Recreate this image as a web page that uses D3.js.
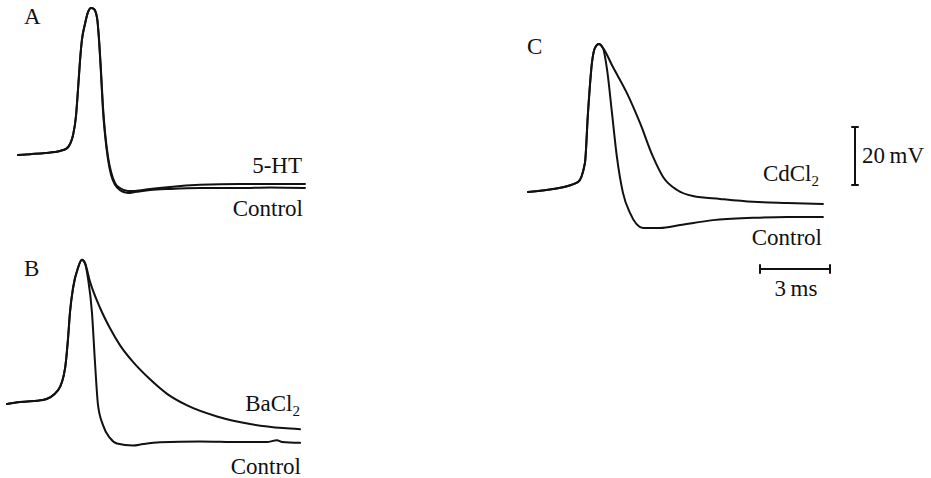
<!DOCTYPE html>
<html lang="en">
    <head>
	<title>Action potentials</title>
	<meta charset="utf-8">
	<style>
	 body {
	     margin: 0;
	     background: #fff;
	 }
	 text {
	     font-family: "Liberation Serif", "DejaVu Serif", serif;
	     font-size: 23px;
	     fill: #111;
	 }
	 .trace {
	     fill: none;
	     stroke: #111;
	     stroke-width: 2;
	     stroke-linejoin: round;
	     stroke-linecap: round;
	 }
	</style>
	<script src="https://d3js.org/d3.v7.min.js"></script>
    </head>
    <body>
	<div id="chart"></div>
	<script>

	 //Data: time (ms) and membrane potential (mV)

	 //A: control vs 5-HT
	 const tA_ctrl = [0, 0.51, 1.16, 1.80, 2.06, 2.23, 2.36, 2.49, 2.57, 2.66, 2.74, 2.87, 3.00, 3.13, 3.26, 3.39, 3.47, 3.56, 3.64, 3.73, 3.86, 3.99, 4.16, 4.37, 4.71, 5.01, 5.66, 6.52, 7.80, 9.52, 10.80, 12.30];
	 const vA_ctrl = [-50, -49.7, -49.3, -48.6, -47.9, -46.2, -43.1, -36.2, -27.6, -17.2, -10.3, -4.8, -0.7, 0.7, 0.3, -2.8, -10.3, -22.4, -34.5, -43.1, -51.7, -56.9, -60.3, -62.1, -63.1, -62.8, -62.1, -61.7, -61.4, -61.4, -61.2, -61.4];
	 const tA_5ht = [0, 0.51, 1.16, 1.80, 2.06, 2.23, 2.36, 2.49, 2.57, 2.66, 2.74, 2.87, 3.00, 3.13, 3.26, 3.39, 3.47, 3.56, 3.64, 3.73, 3.86, 3.99, 4.16, 4.37, 4.71, 5.01, 5.66, 6.52, 7.80, 9.52, 10.80, 12.30];
	 const vA_5ht = [-50, -49.7, -49.3, -48.6, -47.9, -46.2, -43.1, -36.2, -27.6, -17.2, -10.3, -4.8, -0.7, 0.7, 0.3, -2.8, -9.7, -21.4, -33.1, -42.1, -50.7, -55.9, -59.7, -61.4, -62.4, -62.4, -61.7, -61.0, -60.3, -60.0, -60.0, -60.0];

	 //B: control vs BaCl2
	 const tB_ctrl = [0, 0.56, 1.54, 2.19, 2.49, 2.61, 2.70, 2.83, 3.04, 3.21, 3.34, 3.47, 3.64, 3.77, 3.90, 4.11, 4.41, 4.71, 5.40, 5.83, 6.56, 8.27, 9.99, 11.14, 11.57, 11.79, 12.56];
	 const vB_ctrl = [-50, -49.3, -48.6, -45.2, -37.6, -28.0, -18.3, -10.0, -3.1, -0.3, -1.4, -6.6, -18.3, -35.5, -50.3, -57.2, -61.7, -63.6, -64.3, -63.8, -63.2, -62.9, -63.1, -63.1, -62.5, -63.1, -63.4];
	 const tB_ba = [0, 0.56, 1.54, 2.19, 2.49, 2.61, 2.70, 2.83, 3.04, 3.21, 3.34, 3.56, 3.99, 4.41, 4.84, 5.40, 6.13, 6.86, 7.72, 9.00, 10.42, 11.83, 12.56];
	 const vB_ba = [-50, -49.3, -48.6, -45.2, -37.6, -28.0, -18.3, -10.0, -3.1, -0.3, -1.4, -7.9, -16.9, -23.8, -29.7, -35.5, -41.5, -46.5, -50.5, -54.3, -56.9, -58.3, -58.7];

	 //C: control vs CdCl2
	 const tC_ctrl = [0, 1.07, 2.14, 2.44, 2.57, 2.74, 2.87, 3.04, 3.21, 3.39, 3.60, 3.81, 4.07, 4.37, 4.93, 5.66, 6.52, 7.93, 9.64, 11.10, 12.64];
	 const vC_ctrl = [-50, -49.0, -46.6, -40.0, -22.8, -5.5, -0.3, 1.0, -0.3, -7.9, -22.8, -37.9, -50.3, -57.2, -62.4, -62.4, -61.4, -59.7, -58.9, -58.6, -58.6];
	 const tC_cd = [0, 1.07, 2.14, 2.44, 2.57, 2.74, 2.87, 3.04, 3.21, 3.64, 4.24, 4.80, 5.36, 5.79, 6.39, 7.07, 8.23, 9.64, 11.10, 12.64];
	 const vC_cd = [-50, -49.0, -46.6, -40.0, -22.8, -5.5, -0.3, 1.0, -0.3, -6.9, -15.9, -26.2, -37.9, -44.8, -49.3, -51.4, -52.4, -53.4, -53.8, -54.1];

	 //Scale bars
	 const barTime = 3;     // ms
	 const barVolt = 20;    // mV

	 const zip = (t, v) => t.map((d, i) => ({t: d, v: v[i]}));

	 const panels = [
	     {letter: 'A', x: 18, y: 155, lx: 24, ly: 24,
	      traces: [
		  {data: zip(tA_ctrl, vA_ctrl), label: 'Control', sub: '', tx: 303, ty: 216},
		  {data: zip(tA_5ht, vA_5ht), label: '5-HT', sub: '', tx: 302, ty: 173}
	      ]},
	     {letter: 'B', x: 7, y: 404, lx: 24, ly: 276,
	      traces: [
		  {data: zip(tB_ctrl, vB_ctrl), label: 'Control', sub: '', tx: 301, ty: 474},
		  {data: zip(tB_ba, vB_ba), label: 'BaCl', sub: '2', tx: 300, ty: 411}
	      ]},
	     {letter: 'C', x: 528, y: 192, lx: 527, ly: 54,
	      traces: [
		  {data: zip(tC_ctrl, vC_ctrl), label: 'Control', sub: '', tx: 822, ty: 245},
		  {data: zip(tC_cd, vC_cd), label: 'CdCl', sub: '2', tx: 819, ty: 181}
	      ]}
	 ];

	 //Display specs
	 const width = 931;
	 const height = 478;

	 const svg = d3.select('#chart').append('svg')
		       .attr('width', width)
		       .attr('height', height);

	 //Shared scales (23.3 px per ms, 2.9 px per mV), rest = -50 mV at panel origin
	 const x = d3.scaleLinear().domain([0, 3]).range([0, 70]);
	 const y = d3.scaleLinear().domain([-50, -30]).range([0, -58]);

	 const line = d3.line()
			.x(d => x(d.t))
			.y(d => y(d.v))
			.curve(d3.curveMonotoneX);

	 panels.forEach(function (p) {
	     const g = svg.append('g')
			  .attr('transform', 'translate(' + p.x + ',' + p.y + ')');

	     g.selectAll('path')
	      .data(p.traces)
	      .enter()
	      .append('path')
	      .attr('class', 'trace')
	      .attr('d', d => line(d.data));

	     svg.append('text')
		.attr('x', p.lx)
		.attr('y', p.ly)
		.text(p.letter);

	     p.traces.forEach(function (tr) {
		 const t = svg.append('text')
			      .attr('x', tr.tx)
			      .attr('y', tr.ty)
			      .style('text-anchor', 'end');
		 t.append('tspan').text(tr.label);
		 if (tr.sub) {
		     t.append('tspan')
		      .attr('dy', 5)
		      .style('font-size', '15px')
		      .text(tr.sub);
		 }
	     });
	 });

	 //Vertical scale bar (20 mV)
	 const vb = svg.append('g').attr('transform', 'translate(855,185)');
	 const vLen = y(-50) - y(-50 + barVolt);
	 vb.append('line').attr('class', 'trace').attr('x1', 0).attr('x2', 0).attr('y1', 0).attr('y2', -vLen);
	 vb.append('line').attr('class', 'trace').attr('x1', -3).attr('x2', 3).attr('y1', 0).attr('y2', 0);
	 vb.append('line').attr('class', 'trace').attr('x1', -3).attr('x2', 3).attr('y1', -vLen).attr('y2', -vLen);
	 vb.append('text')
	   .attr('x', 7)
	   .attr('y', -vLen + 36)
	   .text(barVolt + '\u2009mV');

	 //Horizontal scale bar (3 ms)
	 const hb = svg.append('g').attr('transform', 'translate(760,269)');
	 const hLen = x(barTime) - x(0);
	 hb.append('line').attr('class', 'trace').attr('x1', 0).attr('x2', hLen).attr('y1', 0).attr('y2', 0);
	 hb.append('line').attr('class', 'trace').attr('x1', 0).attr('x2', 0).attr('y1', -4).attr('y2', 4);
	 hb.append('line').attr('class', 'trace').attr('x1', hLen).attr('x2', hLen).attr('y1', -4).attr('y2', 4);
	 hb.append('text')
	   .attr('x', hLen / 2 + 1)
	   .attr('y', 27)
	   .style('text-anchor', 'middle')
	   .text(barTime + '\u2009ms');

	</script>
    </body>
</html>
